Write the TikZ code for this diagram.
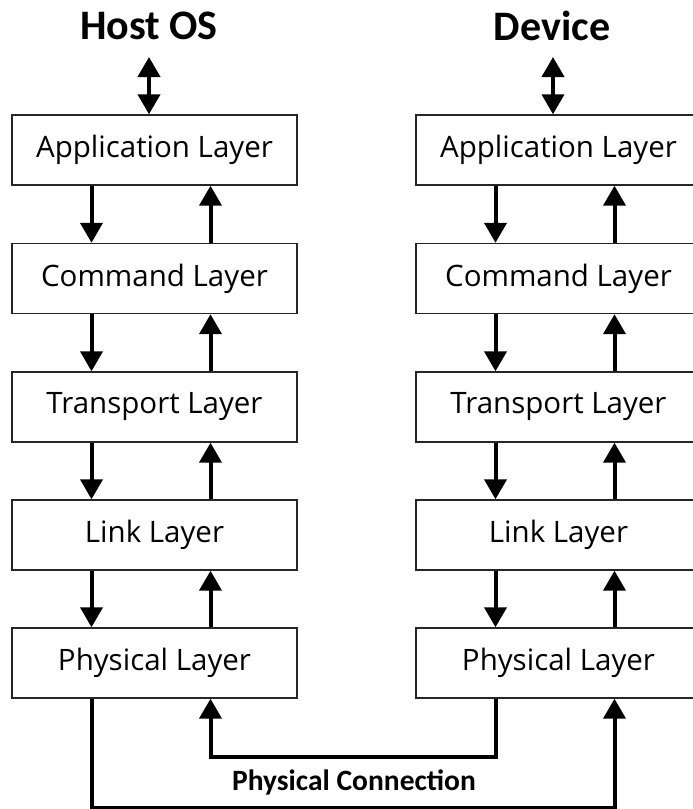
\documentclass[tikz,border=0pt]{standalone}
\usepackage{fontspec}
\setmainfont{Open Sans}
\newfontfamily\headfont{Carlito}
\usetikzlibrary{arrows.meta}
\tikzset{
  layerbox/.style={draw=black!85, line width=1.4pt, fill=white,
    minimum width=285pt, minimum height=70pt, inner sep=0pt,
    font=\fontsize{29.5}{34}\selectfont},
  tip/.style={Triangle[width=22pt,length=20pt]},
  flow/.style={line width=4pt, -{Triangle[width=22pt,length=20pt]}},
  dflow/.style={line width=4pt, {Triangle[width=22pt,length=20pt]}-{Triangle[width=22pt,length=20pt]}},
  title/.style={font=\headfont\bfseries\fontsize{42}{46}\selectfont},
  conn/.style={font=\headfont\bfseries\fontsize{29.5}{32}\selectfont}
}
\begin{document}
\begin{tikzpicture}[x=1pt,y=1pt]
\useasboundingbox (0,0) rectangle (693,-809);

% host stack
\node[layerbox] (happ) at (154.5,-150) {Application Layer};
\node[layerbox] (hcmd) at (154.5,-278.5) {Command Layer};
\node[layerbox] (htra) at (154.5,-407) {Transport Layer};
\node[layerbox] (hlnk) at (154.5,-535) {Link Layer};
\node[layerbox] (hphy) at (154.5,-663) {Physical Layer};

% device stack
\node[layerbox] (dapp) at (558.5,-150) {Application Layer};
\node[layerbox] (dcmd) at (558.5,-278.5) {Command Layer};
\node[layerbox] (dtra) at (558.5,-407) {Transport Layer};
\node[layerbox] (dlnk) at (558.5,-535) {Link Layer};
\node[layerbox] (dphy) at (558.5,-663) {Physical Layer};

% headings
\node[title] (host) at (149,-26) {Host OS};
\node[title] (dev) at (552,-26) {Device};
\coordinate (htop) at (149,-57);
\coordinate (dtop) at (553,-57);
\draw[dflow] (htop) -- ([xshift=-5.5pt]happ.north);
\draw[dflow] (dtop) -- ([xshift=-5.5pt]dapp.north);

% data flow inside each stack
\foreach \a/\b in {happ/hcmd, hcmd/htra, htra/hlnk, hlnk/hphy,
                   dapp/dcmd, dcmd/dtra, dtra/dlnk, dlnk/dphy}{
  \draw[flow] ([xshift=-63pt]\a.south) -- ([xshift=-63pt]\b.north);
  \draw[flow] ([xshift=56pt]\b.north) -- ([xshift=56pt]\a.south);
}

% physical link between the stacks
\draw[flow] ([xshift=-63pt]dphy.south) -- ++(0,-58) -| ([xshift=56pt]hphy.south);
\draw[flow] ([xshift=-63pt]hphy.south) -- ++(0,-109) -| ([xshift=56pt]dphy.south);
\node[conn] (pc) at (354,-782) {Physical Connection};
\end{tikzpicture}
\end{document}
